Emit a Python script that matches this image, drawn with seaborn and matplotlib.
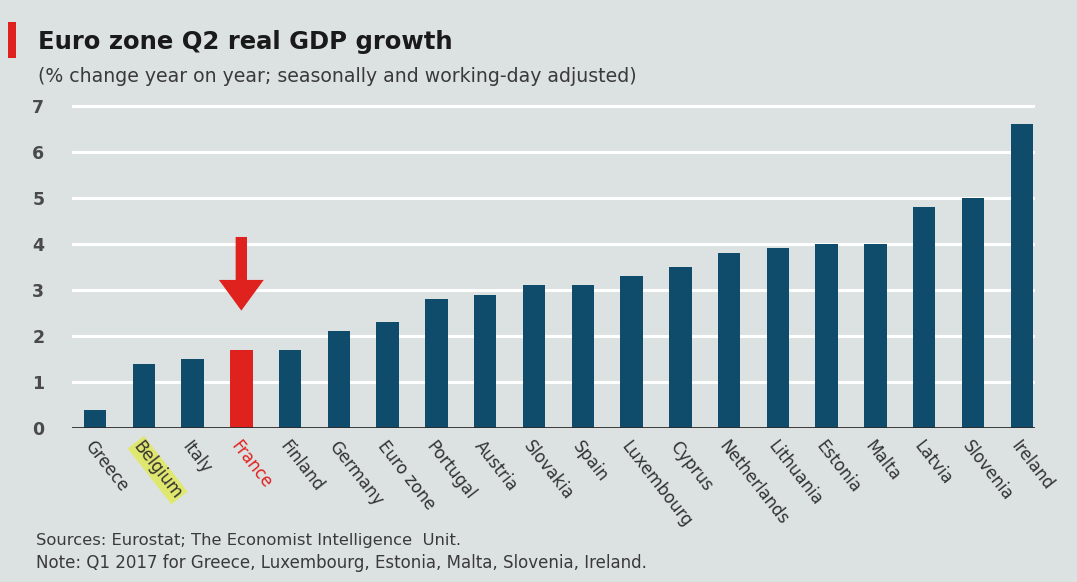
import matplotlib
matplotlib.use("Agg")
import matplotlib.pyplot as plt
from matplotlib.patches import Rectangle
import seaborn as sns
import pandas as pd

countries = ["Greece", "Belgium", "Italy", "France", "Finland", "Germany", "Euro zone",
             "Portugal", "Austria", "Slovakia", "Spain", "Luxembourg", "Cyprus",
             "Netherlands", "Lithuania", "Estonia", "Malta", "Latvia", "Slovenia", "Ireland"]
growth = [0.4, 1.4, 1.5, 1.7, 1.7, 2.1, 2.3, 2.8, 2.9, 3.1, 3.1, 3.3, 3.5,
          3.8, 3.9, 4.0, 4.0, 4.8, 5.0, 6.6]
yticks = [0, 1, 2, 3, 4, 5, 6, 7]

title = "Euro zone Q2 real GDP growth"
subtitle = "(% change year on year; seasonally and working-day adjusted)"
source = "Sources: Eurostat; The Economist Intelligence  Unit."
note = "Note: Q1 2017 for Greece, Luxembourg, Estonia, Malta, Slovenia, Ireland."

BG = "#dce2e2"
BLUE = "#0f4c6b"
RED = "#e0221f"
TEXT = "#3a3a3a"

sns.set_theme(style="white")
plt.rcParams["font.family"] = ["DejaVu Sans"]

df = pd.DataFrame({"country": countries, "growth": growth})
palette = {c: (RED if c == "France" else BLUE) for c in countries}

fig = plt.figure(figsize=(10.77, 5.82), dpi=100, facecolor=BG)
ax = fig.add_axes([0.0669, 0.2646, 0.8941, 0.5560])
ax.set_facecolor(BG)

sns.barplot(data=df, x="country", y="growth", hue="country", palette=palette,
            legend=False, width=0.46, ax=ax, saturation=1, zorder=3,
            edgecolor="none", linewidth=0)

ax.set_ylim(0, 7.03)
ax.set_xlim(-0.47, 19.27)
ax.set_yticks(yticks)
ax.set_yticklabels([str(t) for t in yticks], fontsize=12.5, color="#4a4a4a", fontweight="bold")
for t in yticks[1:]:
    ax.axhline(t, color="white", lw=2.2, zorder=1)
ax.axhline(0, color="#2b2b2b", lw=2, zorder=4)
for s in ax.spines.values():
    s.set_visible(False)
ax.tick_params(axis="y", length=0, pad=20)
ax.tick_params(axis="x", length=0, pad=7)
ax.set_xlabel("")
ax.set_ylabel("")

ax.set_xticks(range(len(countries)))
ax.set_xticklabels(countries, rotation=-52, ha="left", rotation_mode="anchor",
                   fontsize=12, color="#333333")
for lbl in ax.get_xticklabels():
    if lbl.get_text() == "France":
        lbl.set_color(RED)
    if lbl.get_text() == "Belgium":
        lbl.set_bbox(dict(facecolor="#e2ea48", edgecolor="none", alpha=0.75, pad=1))

fi = countries.index("France")
ax.annotate("", xy=(fi, 2.55), xytext=(fi, 4.15),
            arrowprops=dict(arrowstyle="simple,head_width=1.9,head_length=1.3,tail_width=0.48",
                            mutation_scale=17, facecolor=RED, edgecolor="none", lw=0,
                            shrinkA=0, shrinkB=0), zorder=5)

fig.patches.append(Rectangle((0.0074, 0.90), 0.0075, 0.062, transform=fig.transFigure,
                             facecolor=RED, edgecolor="none"))
fig.text(0.035, 0.927, title, fontsize=17.5, fontweight="bold", color="#1a1a1a",
         va="center", ha="left")
fig.text(0.035, 0.869, subtitle, fontsize=13.6, color=TEXT, va="center", ha="left")
fig.text(0.033, 0.071, source, fontsize=11.8, color=TEXT, va="center", ha="left")
fig.text(0.033, 0.032, note, fontsize=12, color=TEXT, va="center", ha="left")

fig.savefig("out.png", dpi=100, facecolor=BG)
